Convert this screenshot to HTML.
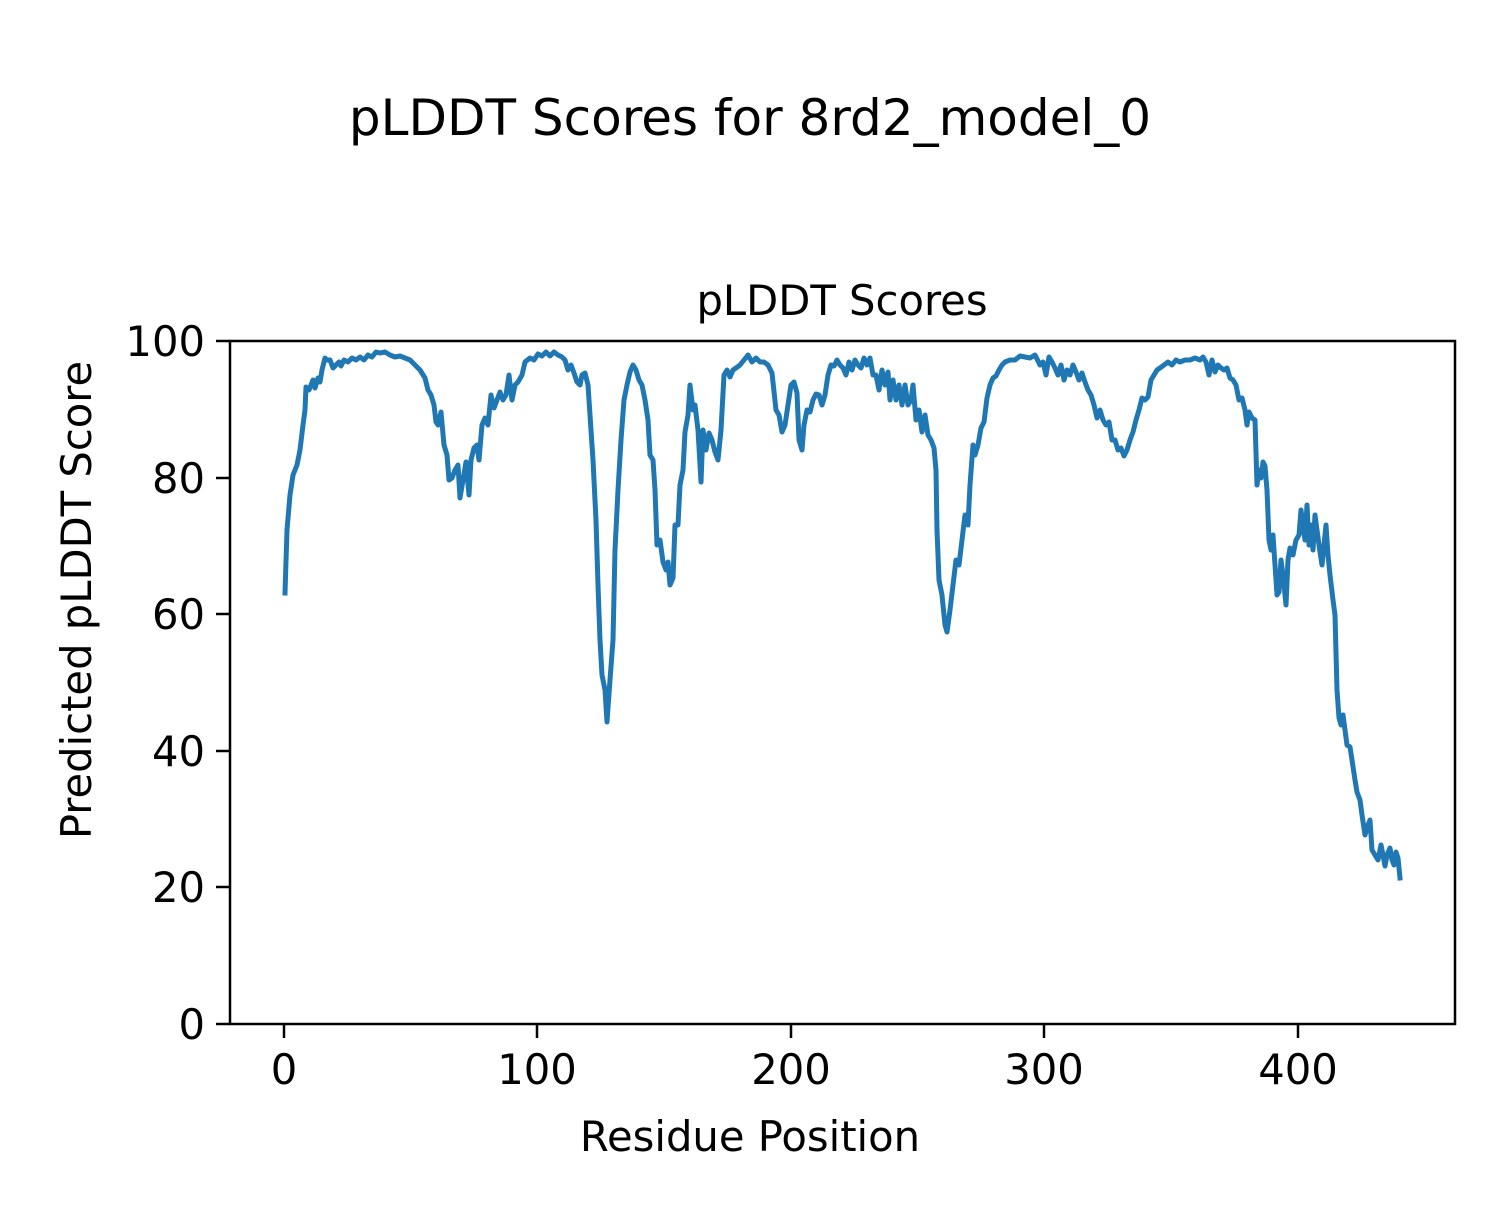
<!DOCTYPE html>
<html><head><meta charset="utf-8"><style>body{margin:0;background:#fff}</style></head><body>
<svg width="1500" height="1200" xmlns="http://www.w3.org/2000/svg" font-family="DejaVu Sans, Liberation Sans, sans-serif">
<rect width="1500" height="1200" fill="#fff"/>
<text x="750" y="135" font-size="50" text-anchor="middle">pLDDT Scores for 8rd2_model_0</text>
<text x="842" y="315" font-size="41.7" text-anchor="middle">pLDDT Scores</text>
<polyline fill="none" stroke="#1f77b4" stroke-width="5" stroke-linejoin="round" stroke-linecap="square" points="285,593 287,530 290,495 293,475 297,465 300,450 303,425 305,410 306,387 309,390 311,385 313,380 315,388 318,378 320,382 322,370 325,358 327,360 330,360 333,368 336,365 339,362 341,366 344,360 348,362 352,358 356,360 360,357 364,360 368,355 372,357 376,352 380,353 385,352 390,355 395,357 400,356 405,358 410,360 415,365 420,370 425,378 428,390 431,395 434,405 436,422 438,425 441,412 444,445 447,455 449,480 452,478 455,470 458,465 460,498 463,480 466,462 469,495 471,460 474,448 477,445 479,460 482,425 485,418 488,425 491,395 494,408 497,400 500,392 503,400 506,395 509,375 512,400 515,385 518,382 522,375 525,362 530,358 534,360 538,354 542,356 546,352 550,356 554,352 558,355 562,357 565,360 568,370 571,365 574,373 577,382 580,385 582,375 585,373 588,385 590,415 593,460 596,520 598,585 600,640 602,675 605,690 607,722 610,680 613,640 615,550 618,490 621,440 624,400 627,385 630,372 633,365 636,370 639,380 642,385 645,400 648,420 650,455 653,460 655,490 657,545 660,540 663,562 666,570 668,562 670,585 673,578 675,525 678,525 680,485 683,470 685,432 688,415 690,385 693,410 695,405 698,430 701,482 703,430 706,450 709,433 712,440 715,452 718,460 721,430 724,375 727,370 730,377 733,370 736,368 740,365 744,360 748,355 752,362 756,358 760,362 764,362 768,365 772,373 776,410 779,415 782,432 785,425 788,405 791,385 794,382 797,393 799,440 802,450 804,425 807,410 810,412 813,400 816,394 819,395 822,405 825,395 828,375 831,365 834,366 837,360 840,365 843,368 846,375 849,362 852,370 855,360 858,365 861,368 864,358 867,365 870,358 873,375 876,375 879,390 882,370 885,385 888,372 890,400 893,380 896,400 899,385 902,405 905,385 908,405 911,400 913,385 916,420 919,410 922,432 925,415 928,435 931,440 934,448 936,470 937,530 939,580 942,595 945,625 947,632 950,610 953,585 956,560 959,565 962,540 965,515 968,525 970,485 973,445 975,455 978,445 981,428 984,422 987,398 990,385 993,378 996,376 999,370 1002,365 1005,362 1010,360 1015,360 1020,356 1025,357 1030,358 1035,355 1040,365 1043,362 1046,375 1049,357 1052,362 1055,368 1058,375 1061,365 1064,380 1067,370 1070,375 1073,365 1076,372 1079,380 1082,373 1085,382 1088,390 1091,395 1094,405 1097,418 1100,410 1103,420 1106,425 1109,422 1112,440 1115,440 1118,450 1121,448 1124,456 1127,450 1130,440 1133,432 1136,420 1139,410 1142,398 1145,400 1148,397 1151,380 1154,375 1157,370 1160,368 1164,365 1168,362 1172,365 1176,360 1180,362 1185,360 1190,360 1195,358 1200,360 1203,357 1206,362 1209,375 1212,360 1215,372 1218,365 1221,368 1224,370 1227,368 1230,378 1233,380 1236,385 1239,400 1242,398 1245,410 1247,425 1249,412 1252,418 1255,420 1257,485 1259,470 1261,478 1263,462 1265,466 1267,490 1269,540 1271,550 1273,535 1275,565 1277,595 1279,592 1281,560 1283,575 1286,605 1288,560 1290,548 1293,555 1296,540 1299,535 1301,510 1303,525 1305,540 1307,505 1309,545 1311,525 1313,550 1315,515 1317,530 1319,545 1322,565 1324,545 1326,525 1328,555 1330,575 1333,600 1335,615 1337,690 1339,718 1341,725 1343,715 1345,730 1347,745 1350,747 1352,760 1355,780 1357,792 1360,800 1362,815 1365,835 1368,825 1370,820 1372,850 1375,855 1378,860 1381,845 1383,855 1385,866 1387,855 1390,848 1392,860 1394,865 1396,852 1398,858 1400,878"/>
<rect x="230" y="341" width="1225" height="683" fill="none" stroke="#000" stroke-width="2.5"/>
<g stroke="#000" stroke-width="2.5">
<line x1="216" y1="341" x2="230" y2="341"/><line x1="216" y1="478" x2="230" y2="478"/><line x1="216" y1="614" x2="230" y2="614"/><line x1="216" y1="751" x2="230" y2="751"/><line x1="216" y1="887" x2="230" y2="887"/><line x1="216" y1="1024" x2="230" y2="1024"/>
<line x1="284" y1="1024" x2="284" y2="1038"/><line x1="537" y1="1024" x2="537" y2="1038"/><line x1="791" y1="1024" x2="791" y2="1038"/><line x1="1044" y1="1024" x2="1044" y2="1038"/><line x1="1298" y1="1024" x2="1298" y2="1038"/>
</g>
<g font-size="41.7" text-anchor="end">
<text x="205" y="356">100</text><text x="205" y="493">80</text><text x="205" y="629">60</text><text x="205" y="766">40</text><text x="205" y="902">20</text><text x="205" y="1039">0</text>
</g>
<g font-size="41.7" text-anchor="middle">
<text x="284" y="1084">0</text><text x="537" y="1084">100</text><text x="791" y="1084">200</text><text x="1044" y="1084">300</text><text x="1298" y="1084">400</text>
</g>
<text x="750" y="1151" font-size="41.7" text-anchor="middle">Residue Position</text>
<text transform="translate(91,600) rotate(-90)" font-size="41.7" text-anchor="middle">Predicted pLDDT Score</text>
</svg>
</body></html>
